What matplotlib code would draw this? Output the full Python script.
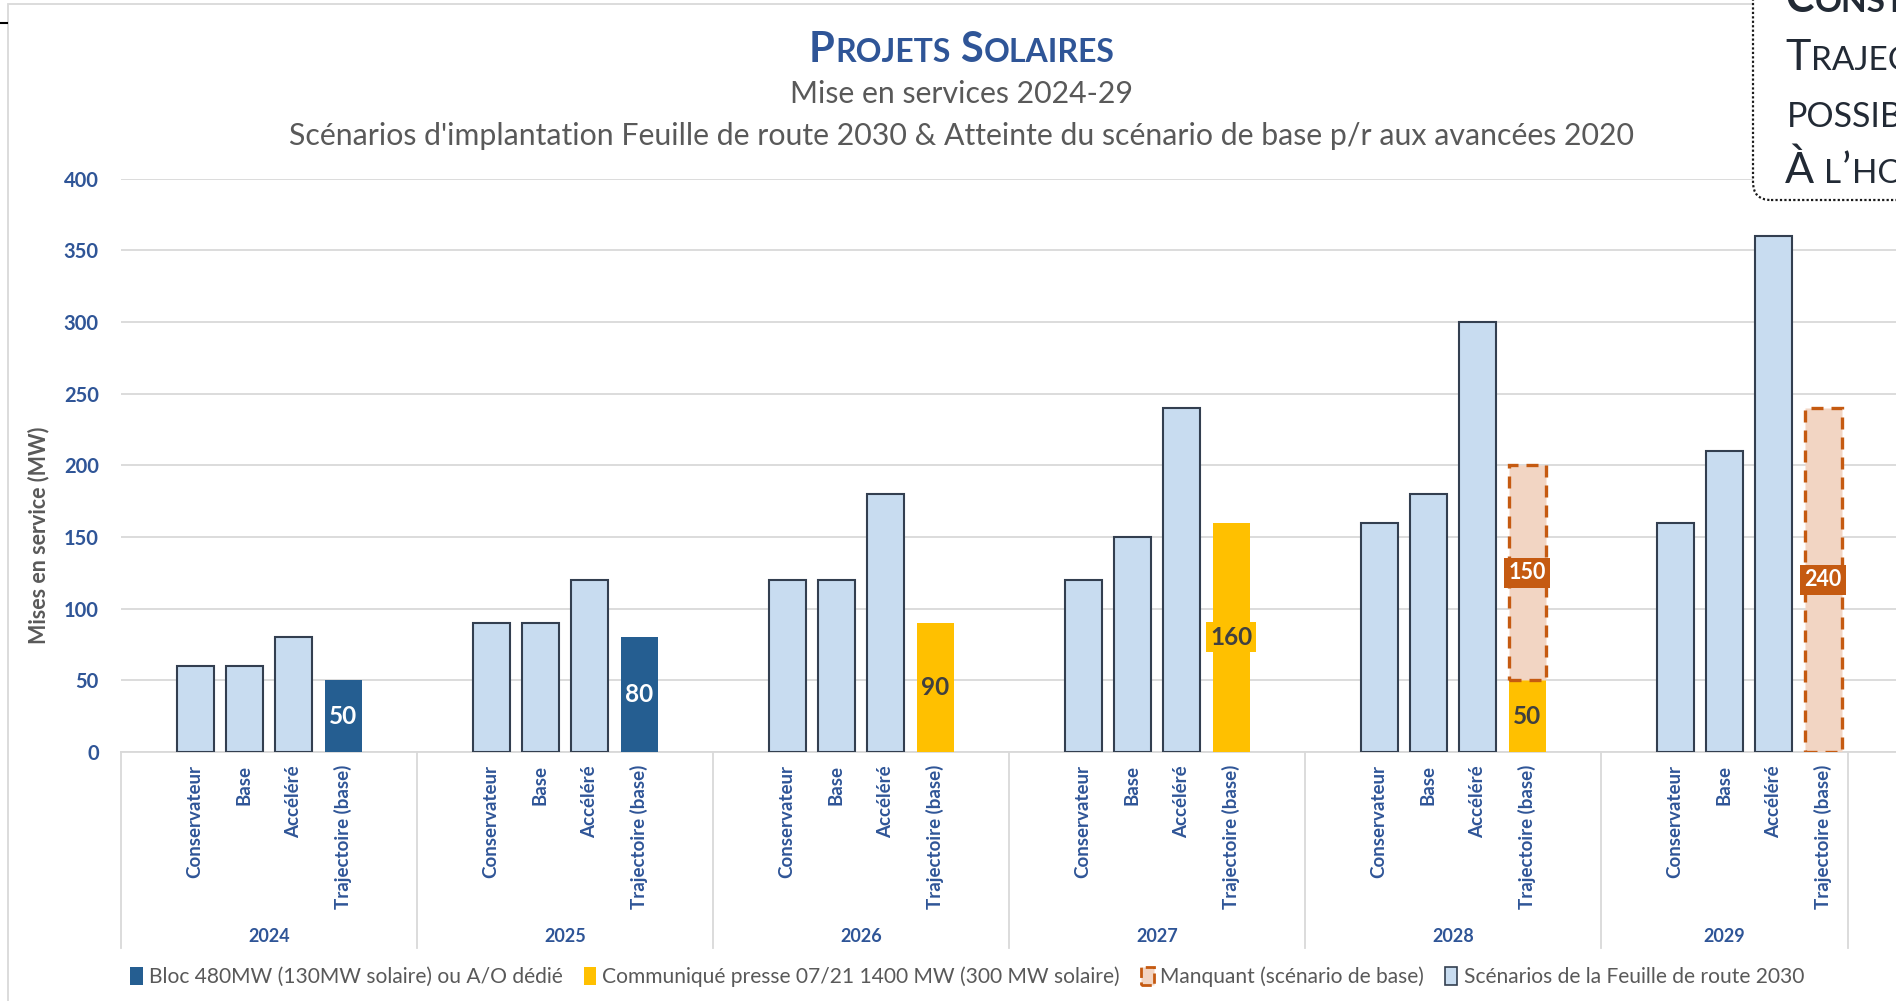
import matplotlib.pyplot as plt
import matplotlib.transforms as mtransforms
from matplotlib.patches import Patch, Rectangle, FancyBboxPatch
from matplotlib.lines import Line2D

plt.rcParams['font.family'] = ['Lato', 'DejaVu Sans']

# ── Data ──────────────────────────────────────────────────────
years = ['2024', '2025', '2026', '2027', '2028', '2029']
scenarios = ['Conservateur', 'Base', 'Accéléré', 'Trajectoire (base)']
conservateur = [60, 90, 120, 120, 160, 160]
base = [60, 90, 120, 150, 180, 210]
accelere = [80, 120, 180, 240, 300, 360]
bloc_480 = [50, 80, 0, 0, 0, 0]
communique = [0, 0, 90, 160, 50, 0]
manquant = [0, 0, 0, 0, 150, 240]
yticks = [0, 50, 100, 150, 200, 250, 300, 350, 400]

# ── Colours ───────────────────────────────────────────────────
BLUE_TXT = '#2F5597'
GREY_TXT = '#595959'
LIGHT = '#C8DCF0'
EDGE = '#333F50'
DARK = '#255E91'
YELLOW = '#FFC000'
ORANGE = '#C55A11'
PEACH = '#F2D5C3'
GRID = '#D9D9D9'

W, H = 1896, 1001


def px(x, y):
    """pixel (from top-left) -> figure fraction"""
    return x / W, 1 - y / H


def small_caps(fig, x, y, s, big, small, ha='left', **kw):
    """Fake small caps: lowercase letters drawn as smaller capitals."""
    r = fig.canvas.get_renderer()
    runs = []
    for ch in s:
        kind = 'space' if ch == ' ' else ('small' if ch.islower() else 'big')
        if runs and runs[-1][0] == kind:
            runs[-1][1] += ch
        else:
            runs.append([kind, ch])
    arts, widths = [], []
    for kind, txt in runs:
        if kind == 'space':
            arts.append(None)
            widths.append(0.26 * small * 100 / 72 * len(txt))
            continue
        size = small if kind == 'small' else big
        t = fig.text(0, 0, txt.upper(), fontsize=size, va='baseline', ha='left', **kw)
        arts.append(t)
        widths.append(t.get_window_extent(r).width + 1)
    x0 = x - sum(widths) / 2 if ha == 'center' else x
    for t, w in zip(arts, widths):
        if t is not None:
            t.set_position(px(x0, y))
        x0 += w


fig = plt.figure(figsize=(W / 100, H / 100), dpi=100)

# outer chart frame + stray line from the slide
fig.add_artist(Rectangle(px(8, 1020), (W + 20) / W, 1016 / H, transform=fig.transFigure,
                         facecolor='none', edgecolor=GRID, lw=1.3, zorder=0))
fig.add_artist(Line2D([0, 7 / W], [1 - 23 / H] * 2, transform=fig.transFigure,
                      color='black', lw=1.5))

ax = fig.add_axes([121 / W, 249 / H, 1776 / W, 573.4 / H])
ax.set_xlim(0, 36)
ax.set_ylim(0, 400)

# ── Bars ──────────────────────────────────────────────────────
bw = 0.75
for g in range(len(years)):
    x0 = g * 6
    for k, vals in enumerate([conservateur, base, accelere]):
        ax.bar(x0 + 1.5 + k, vals[g], width=bw, color=LIGHT, edgecolor=EDGE,
               linewidth=1.5, zorder=3)
    xt = x0 + 4.5
    bottom = 0
    if bloc_480[g]:
        ax.bar(xt, bloc_480[g], width=bw, color=DARK, zorder=3)
        ax.text(xt, bloc_480[g] / 2, str(bloc_480[g]), ha='center', va='center',
                color='white', fontsize=17.5, fontweight='bold', zorder=5,
                bbox=dict(facecolor=DARK, edgecolor='none', boxstyle='square,pad=0.15'))
        bottom += bloc_480[g]
    if communique[g]:
        ax.bar(xt, communique[g], bottom=bottom, width=bw, color=YELLOW, zorder=3)
        ax.text(xt, bottom + communique[g] / 2, str(communique[g]), ha='center',
                va='center', color='#404040', fontsize=17.5, fontweight='bold', zorder=5,
                bbox=dict(facecolor=YELLOW, edgecolor='none', boxstyle='square,pad=0.15'))
        bottom += communique[g]
    if manquant[g]:
        ax.bar(xt, manquant[g], bottom=bottom, width=bw, color=PEACH, edgecolor=ORANGE,
               linewidth=2.4, linestyle=(0, (3.6, 2.4)), zorder=3)
        ax.text(xt, bottom + manquant[g] / 2, str(manquant[g]), ha='center', va='center',
                color='white', fontsize=15.5, fontweight='bold', zorder=5,
                bbox=dict(facecolor=ORANGE, edgecolor='none', boxstyle='square,pad=0.22'))

# ── Axes styling ──────────────────────────────────────────────
ax.set_yticks(yticks)
ax.yaxis.grid(True, color=GRID, lw=1.3, zorder=0)
ax.set_axisbelow(True)
ax.set_xticks([])
ax.tick_params(axis='y', length=0, pad=16, labelsize=14.5, labelcolor=BLUE_TXT)
for lab in ax.get_yticklabels():
    lab.set_fontweight('bold')
for side in ['top', 'right', 'left']:
    ax.spines[side].set_visible(False)
ax.spines['bottom'].set_color(GRID)
ax.spines['bottom'].set_linewidth(1.3)
ax.patch.set_alpha(0)

fig.text(*px(39, 535), 'Mises en service (MW)', rotation=90, ha='center', va='center',
         fontsize=15.5, fontweight='bold', color=GREY_TXT)

# multi-level category axis
trans = mtransforms.blended_transform_factory(ax.transData, fig.transFigure)
separators = [g * 6 for g in range(len(years))] + [35]
for xs in separators:
    ax.add_line(Line2D([xs, xs], [1 - 752 / H, 1 - 948 / H], transform=trans,
                       color=GRID, lw=1.3, clip_on=False))
for g, yr in enumerate(years):
    for k, name in enumerate(scenarios):
        ax.text(g * 6 + 1.5 + k, 1 - 765 / H, name, transform=trans, rotation=90,
                ha='center', va='top', fontsize=13.5, fontweight='bold', color=BLUE_TXT)
    xc = (separators[g] + separators[g + 1]) / 2
    ax.text(xc, 1 - 937 / H, yr, transform=trans, ha='center', va='center',
            fontsize=13, fontweight='bold', color=BLUE_TXT)

# ── Titles ────────────────────────────────────────────────────
small_caps(fig, 962, 62, 'Projets Solaires', 30, 23, ha='center',
           color=BLUE_TXT, fontweight='bold')
fig.text(*px(962, 103), 'Mise en services 2024-29', ha='center', va='baseline',
         fontsize=21.8, color=GREY_TXT)
fig.text(*px(962, 145),
         "Scénarios d'implantation Feuille de route 2030 & Atteinte du scénario de base "
         "p/r aux avancées 2020", ha='center', va='baseline', fontsize=21.8, color=GREY_TXT)

# ── Legend ────────────────────────────────────────────────────
handles = [
    Patch(facecolor=DARK, edgecolor='none', label='Bloc 480MW (130MW solaire) ou A/O dédié'),
    Patch(facecolor=YELLOW, edgecolor='none',
          label='Communiqué presse 07/21 1400 MW (300 MW solaire)'),
    Patch(facecolor=PEACH, edgecolor=ORANGE, linestyle='--', linewidth=2,
          label='Manquant (scénario de base)'),
    Patch(facecolor=LIGHT, edgecolor=EDGE, linewidth=1.2,
          label='Scénarios de la Feuille de route 2030'),
]
fig.legend(handles=handles, loc='center', bbox_to_anchor=px(967, 977), ncol=4,
           frameon=False, fontsize=15.1, labelcolor=GREY_TXT, handlelength=0.6,
           handleheight=1.0, handletextpad=0.3, columnspacing=1.0)

# ── Callout box (cut by the picture edge) ─────────────────────
box = FancyBboxPatch((1753, H - 200), 400, 300,
                     boxstyle='round,pad=0,rounding_size=18',
                     transform=None, facecolor='white', edgecolor='#1a1a1a',
                     linewidth=1.6, linestyle=(0, (1, 1)), zorder=10)
fig.add_artist(box)
small_caps(fig, 1785, 12, 'Constat :', 31, 24, color='#222A35',
           fontweight='bold', zorder=11)
small_caps(fig, 1785, 70, 'Trajectoire', 31, 24, color='#222A35', zorder=11)
small_caps(fig, 1787, 127, 'possible', 31, 24.5, color='#222A35', zorder=11)
small_caps(fig, 1785, 183, 'À l’horizon', 31, 24, color='#222A35', zorder=11)

fig.savefig('out.png', dpi=100)
